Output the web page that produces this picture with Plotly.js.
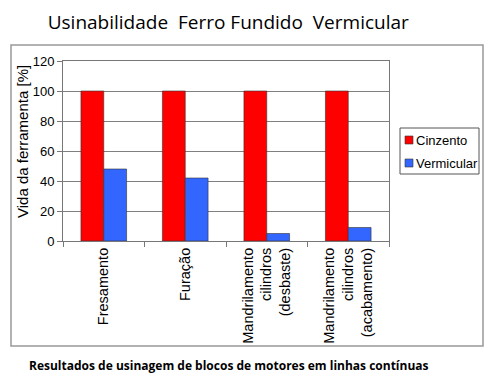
<!DOCTYPE html>
<html>
<head>
<meta charset="utf-8">
<script src="https://cdn.plot.ly/plotly-3.0.1.min.js"></script>
<style>html,body{margin:0;padding:0;background:#fff;}#chart{width:493px;height:378px;}</style>
</head>
<body>
<div id="chart"></div>
<script>
const categories = ["Fresamento", "Furação", "Mandrilamento<br>cilindros<br>(desbaste)", "Mandrilamento<br>cilindros<br>(acabamento)"];
const seriesNames = ["Cinzento", "Vermicular"];
const cinzento = [100, 100, 100, 100];
const vermicular = [48, 42, 5, 9];
const yTicks = [0, 20, 40, 60, 80, 100, 120];
const colors = ['#FF0000', '#3366FF'];

const traces = [
  {type: 'bar', name: seriesNames[0], x: categories, y: cinzento, showlegend: false,
   marker: {color: colors[0], line: {color: '#333333', width: 0.6}}},
  {type: 'bar', name: seriesNames[1], x: categories, y: vermicular, showlegend: false,
   marker: {color: colors[1], line: {color: '#333333', width: 0.6}}}
];

// plot area: x 63..389 px, y 61..241 px
const px = v => (v - 63) / 326;
const py = v => (241 - v) / 180;

const shapes = [
  {type: 'rect', xref: 'paper', yref: 'paper', x0: px(11), x1: px(483), y0: py(346), y1: py(45),
   line: {color: '#999', width: 1.5}, fillcolor: 'rgba(0,0,0,0)', layer: 'below'},
  // legend box
  {type: 'rect', xref: 'paper', yref: 'paper', x0: px(400), x1: px(479), y0: py(174), y1: py(128),
   line: {color: '#555', width: 1}, fillcolor: '#fff', layer: 'above'}
];
const annotations = [
  {text: '<b>Resultados de usinagem de blocos de motores em linhas contínuas</b>', xref: 'paper', yref: 'paper',
   x: px(229), y: py(365), xanchor: 'center', yanchor: 'middle', showarrow: false,
   font: {family: 'Open Sans, sans-serif', size: 12, color: '#000'}},
  {text: 'Vida da ferramenta [%]', xref: 'paper', yref: 'paper', x: px(22), y: py(142),
   xanchor: 'center', yanchor: 'middle', textangle: -90, showarrow: false,
   font: {family: 'Liberation Sans, Arial, sans-serif', size: 15, color: '#000'}}
];
const legendY = [140, 163];
seriesNames.forEach((n, i) => {
  shapes.push({type: 'rect', xref: 'paper', yref: 'paper', x0: px(405), x1: px(413),
    y0: py(legendY[i] + 4), y1: py(legendY[i] - 4),
    line: {color: '#333', width: 0.6}, fillcolor: colors[i], layer: 'above'});
  annotations.push({text: n, xref: 'paper', yref: 'paper', x: px(414), y: py(legendY[i]),
    xanchor: 'left', yanchor: 'middle', showarrow: false,
    font: {family: 'Liberation Sans, Arial, sans-serif', size: 13, color: '#000'}});
});

const layout = {
  width: 493, height: 378,
  margin: {l: 63, r: 104, t: 61, b: 137, autoexpand: false},
  paper_bgcolor: '#ffffff', plot_bgcolor: '#ffffff',
  barmode: 'group', bargap: 0.44, bargroupgap: 0,
  showlegend: false,
  font: {family: 'Liberation Sans, Arial, sans-serif', size: 12, color: '#000'},
  title: {text: 'Usinabilidade  Ferro Fundido  Vermicular', x: 0.463, xanchor: 'center', xref: 'container',
          y: 0.942, yanchor: 'middle', yref: 'container',
          font: {family: 'Open Sans, sans-serif', size: 19, color: '#000'}},
  xaxis: {type: 'category', tickangle: -90, ticks: 'outside', tickson: 'boundaries', ticklen: 5,
          tickcolor: '#777', showline: true, linecolor: '#777', linewidth: 1, mirror: true,
          showgrid: false, tickfont: {size: 14.5}, automargin: false},
  yaxis: {range: [0, 120], tickvals: yTicks, ticks: 'outside', ticklen: 5, tickcolor: '#777',
          showline: true, linecolor: '#777', linewidth: 1, mirror: true,
          showgrid: true, gridcolor: '#808080', gridwidth: 1, zeroline: false,
          tickfont: {size: 13}, automargin: false},
  shapes: shapes,
  annotations: annotations
};

Plotly.newPlot('chart', traces, layout, {displayModeBar: false, staticPlot: true});
</script>
</body>
</html>
